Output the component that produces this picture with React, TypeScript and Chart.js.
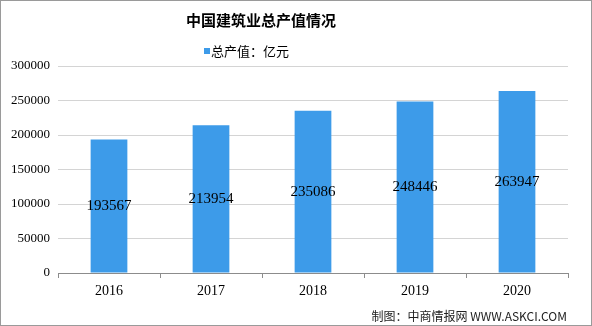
import React, { useEffect, useRef } from "react";
import { Chart, registerables } from "chart.js";

Chart.register(...registerables);

const categories = ["2016", "2017", "2018", "2019", "2020"];
const values = [193567, 213954, 235086, 248446, 263947];
const title = "中国建筑业总产值情况";
const seriesName = "总产值：亿元";
const footer = "制图：中商情报网 WWW.ASKCI.COM";
const barColor = "#3d9be9";

const decorPlugin = {
  id: "decor",
  afterDatasetsDraw(chart: any) {
    const ctx = chart.ctx;
    const meta = chart.getDatasetMeta(0);
    ctx.save();
    ctx.fillStyle = "#000";
    ctx.font = "15px 'Liberation Serif', serif";
    ctx.textAlign = "center";
    ctx.textBaseline = "middle";
    meta.data.forEach((bar: any, i: number) => {
      const mid = (bar.y + bar.base) / 2;
      ctx.fillText(String(values[i]), bar.x, mid);
    });
    ctx.restore();
  },
  afterDraw(chart: any) {
    const ctx = chart.ctx;
    const w = chart.width;
    const h = chart.height;
    ctx.save();
    // title
    ctx.fillStyle = "#000";
    ctx.font = "bold 15px 'Noto Sans CJK SC', sans-serif";
    ctx.textAlign = "center";
    ctx.textBaseline = "middle";
    ctx.fillText(title, 261, 20);
    // legend
    ctx.fillStyle = barColor;
    ctx.fillRect(204, 48, 6, 6);
    ctx.fillStyle = "#000";
    ctx.font = "13px 'Noto Sans CJK SC', sans-serif";
    ctx.textAlign = "left";
    ctx.fillText(seriesName, 211, 51);
    // footer
    ctx.font = "12px 'Noto Sans CJK SC', sans-serif";
    ctx.textAlign = "right";
    ctx.fillStyle = "#222";
    ctx.fillText(footer, 567, 316);
    // border
    ctx.strokeStyle = "#9a9a9a";
    ctx.lineWidth = 1;
    ctx.strokeRect(0.5, 0.5, w - 1, h - 1);
    ctx.restore();
  },
};

export default function App() {
  const ref = useRef<HTMLCanvasElement>(null);
  useEffect(() => {
    document.body.style.margin = "0";
    const chart = new Chart(ref.current!, {
      type: "bar",
      data: {
        labels: categories,
        datasets: [
          {
            label: seriesName,
            data: values,
            backgroundColor: barColor,
            categoryPercentage: 1,
            barPercentage: 0.36,
          },
        ],
      },
      options: {
        animation: false,
        responsive: false,
        maintainAspectRatio: false,
        layout: { padding: { top: 66, right: 24, left: 0, bottom: 0 } },
        plugins: {
          legend: { display: false },
          title: { display: false },
          tooltip: { enabled: false },
        },
        scales: {
          x: {
            afterFit: (s: any) => {
              s.height = 53;
            },
            grid: {
              offset: true,
              drawOnChartArea: false,
              drawTicks: true,
              tickLength: 5,
              color: "#8c8c8c",
            },
            border: { color: "#8c8c8c" },
            ticks: {
              color: "#000",
              font: { family: "'Liberation Serif', serif", size: 14 },
              padding: 5,
            },
          },
          y: {
            min: 0,
            max: 300000,
            afterFit: (s: any) => {
              s.width = 58;
            },
            grid: { color: "#d4d4d4", drawTicks: false },
            border: { display: false },
            ticks: {
              stepSize: 50000,
              color: "#000",
              font: { family: "'Liberation Serif', serif", size: 13 },
              padding: 8,
              callback: (v: any) => String(v),
            },
          },
        },
      },
      plugins: [decorPlugin],
    });
    return () => chart.destroy();
  }, []);
  return (
    <div style={{ position: "absolute", left: 0, top: 0, width: 592, height: 326, background: "#fff" }}>
      <canvas ref={ref} width={592} height={326} style={{ width: 592, height: 326 }} />
    </div>
  );
}
